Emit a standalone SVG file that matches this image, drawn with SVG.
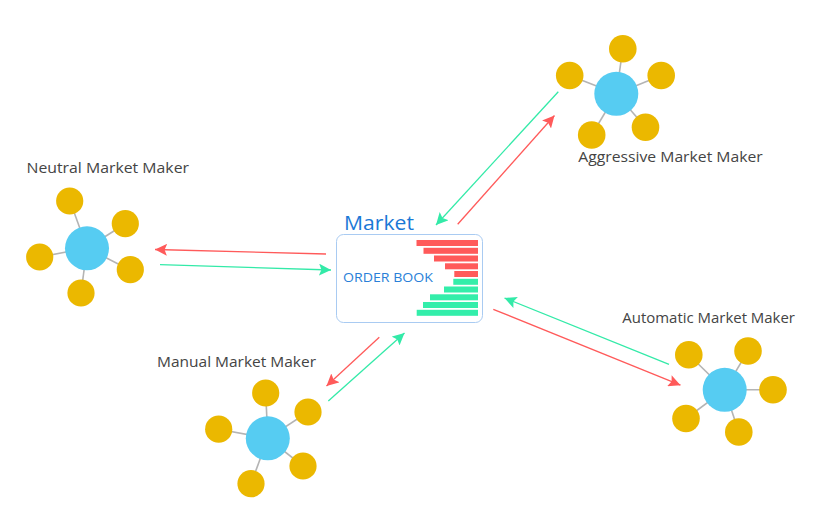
<svg xmlns="http://www.w3.org/2000/svg" width="828" height="522" viewBox="0 0 828 522">
<defs>
<style>
.hub{fill:#56ccf2}
.sat{fill:#ebb800}
.spoke{stroke:#b4b4b4;stroke-width:1.6}
.lbl{font-family:"Open Sans","Noto Sans",sans-serif;font-size:14px;fill:#444}
.red{stroke:#ff5a5a;stroke-width:1.3;fill:none}
.grn{stroke:#33eaa8;stroke-width:1.3;fill:none}
.bred{fill:#ff5a5a}
.bgrn{fill:#33eeaa}
</style>
<marker id="ar" markerUnits="userSpaceOnUse" markerWidth="12" markerHeight="12" viewBox="0 0 10 10" refX="10" refY="5" orient="auto"><path d="M0,0 L10,5 L0,10 L2,5 Z" fill="#ff5a5a"/></marker>
<marker id="ag" markerUnits="userSpaceOnUse" markerWidth="12" markerHeight="12" viewBox="0 0 10 10" refX="10" refY="5" orient="auto"><path d="M0,0 L10,5 L0,10 L2,5 Z" fill="#33eaa8"/></marker>
</defs>
<rect width="828" height="522" fill="#fff"/>

<g id="market">
<text x="344" y="230" font-family="'Open Sans','Noto Sans',sans-serif" font-size="20" fill="#1a78d6" textLength="70" lengthAdjust="spacingAndGlyphs">Market</text>
<rect x="336.5" y="234.5" width="146" height="88" rx="7" fill="#fff" stroke="#a9cbf2" stroke-width="1"/>
<text x="343" y="281.5" font-family="'Open Sans','Noto Sans',sans-serif" font-size="13" fill="#2a7fd8" textLength="90" lengthAdjust="spacingAndGlyphs">ORDER BOOK</text>
<rect class="bred" x="416.5" y="240" width="61.5" height="6"/>
<rect class="bred" x="423.5" y="247.8" width="54.5" height="6"/>
<rect class="bred" x="434" y="255.5" width="44" height="6"/>
<rect class="bred" x="445" y="263.3" width="33" height="6"/>
<rect class="bred" x="454.3" y="271" width="23.7" height="6"/>
<rect class="bgrn" x="453.3" y="278.8" width="24.7" height="6"/>
<rect class="bgrn" x="444" y="286.5" width="34" height="6"/>
<rect class="bgrn" x="430" y="294.3" width="48" height="6"/>
<rect class="bgrn" x="423" y="302" width="55" height="6"/>
<rect class="bgrn" x="416.7" y="309.8" width="61.3" height="6"/>
</g>

<g id="connectors">
<line class="red" x1="326" y1="254" x2="155" y2="249.5" marker-end="url(#ar)"/>
<line class="grn" x1="160" y1="264.7" x2="331" y2="270" marker-end="url(#ag)"/>
<line class="grn" x1="558.3" y1="91.7" x2="436" y2="225" marker-end="url(#ag)"/>
<line class="red" x1="457.7" y1="224.3" x2="554.5" y2="115.5" marker-end="url(#ar)"/>
<line class="red" x1="379.3" y1="337.3" x2="326.5" y2="386" marker-end="url(#ar)"/>
<line class="grn" x1="328.3" y1="401" x2="404.5" y2="333" marker-end="url(#ag)"/>
<line class="grn" x1="669" y1="364.3" x2="504.5" y2="298" marker-end="url(#ag)"/>
<line class="red" x1="493.3" y1="309.3" x2="680.5" y2="385.2" marker-end="url(#ar)"/>
</g>

<g id="neutral">
<text class="lbl" x="26.5" y="172.7" textLength="162.5" lengthAdjust="spacingAndGlyphs">Neutral Market Maker</text>
<line class="spoke" x1="87" y1="248" x2="70" y2="201"/>
<line class="spoke" x1="87" y1="248" x2="125" y2="224"/>
<line class="spoke" x1="87" y1="248" x2="40" y2="257"/>
<line class="spoke" x1="87" y1="248" x2="130" y2="270"/>
<line class="spoke" x1="87" y1="248" x2="81" y2="293"/>
<circle class="hub" cx="87" cy="248.3" r="22"/>
<circle class="sat" cx="69.7" cy="201" r="13.6"/>
<circle class="sat" cx="125.3" cy="223.7" r="13.6"/>
<circle class="sat" cx="39.7" cy="257" r="13.6"/>
<circle class="sat" cx="130.3" cy="269.7" r="13.6"/>
<circle class="sat" cx="81" cy="293" r="13.6"/>
</g>

<g id="aggressive">
<text class="lbl" x="578.3" y="161.7" textLength="184.4" lengthAdjust="spacingAndGlyphs">Aggressive Market Maker</text>
<line class="spoke" x1="616.3" y1="93.8" x2="622.8" y2="48.8"/>
<line class="spoke" x1="616.3" y1="93.8" x2="569.7" y2="75.5"/>
<line class="spoke" x1="616.3" y1="93.8" x2="661.2" y2="75.5"/>
<line class="spoke" x1="616.3" y1="93.8" x2="591.7" y2="135"/>
<line class="spoke" x1="616.3" y1="93.8" x2="645.5" y2="127.2"/>
<circle class="hub" cx="616.3" cy="93.8" r="22"/>
<circle class="sat" cx="622.8" cy="48.8" r="13.8"/>
<circle class="sat" cx="569.7" cy="75.5" r="13.8"/>
<circle class="sat" cx="661.2" cy="75.5" r="13.8"/>
<circle class="sat" cx="591.7" cy="135" r="13.8"/>
<circle class="sat" cx="645.5" cy="127.2" r="13.8"/>
</g>

<g id="manual">
<text class="lbl" x="157" y="366.7" textLength="159" lengthAdjust="spacingAndGlyphs">Manual Market Maker</text>
<line class="spoke" x1="267.8" y1="438.3" x2="265.7" y2="393"/>
<line class="spoke" x1="267.8" y1="438.3" x2="308" y2="412"/>
<line class="spoke" x1="267.8" y1="438.3" x2="218.7" y2="429.2"/>
<line class="spoke" x1="267.8" y1="438.3" x2="303" y2="466"/>
<line class="spoke" x1="267.8" y1="438.3" x2="251" y2="483.7"/>
<circle class="hub" cx="267.8" cy="438.3" r="22"/>
<circle class="sat" cx="265.7" cy="393" r="13.6"/>
<circle class="sat" cx="308" cy="412" r="13.6"/>
<circle class="sat" cx="218.7" cy="429.2" r="13.6"/>
<circle class="sat" cx="303" cy="466" r="13.6"/>
<circle class="sat" cx="251" cy="483.7" r="13.6"/>
</g>

<g id="automatic">
<text class="lbl" x="622.3" y="322.7" textLength="172.7" lengthAdjust="spacingAndGlyphs">Automatic Market Maker</text>
<line class="spoke" x1="724.7" y1="389.8" x2="688.8" y2="354.8"/>
<line class="spoke" x1="724.7" y1="389.8" x2="748" y2="351"/>
<line class="spoke" x1="724.7" y1="389.8" x2="773" y2="389.8"/>
<line class="spoke" x1="724.7" y1="389.8" x2="686" y2="418.5"/>
<line class="spoke" x1="724.7" y1="389.8" x2="738.8" y2="432"/>
<circle class="hub" cx="724.7" cy="389.8" r="22"/>
<circle class="sat" cx="688.8" cy="354.8" r="13.8"/>
<circle class="sat" cx="748" cy="351" r="13.8"/>
<circle class="sat" cx="773" cy="389.8" r="13.8"/>
<circle class="sat" cx="686" cy="418.5" r="13.8"/>
<circle class="sat" cx="738.8" cy="432" r="13.8"/>
</g>
</svg>
